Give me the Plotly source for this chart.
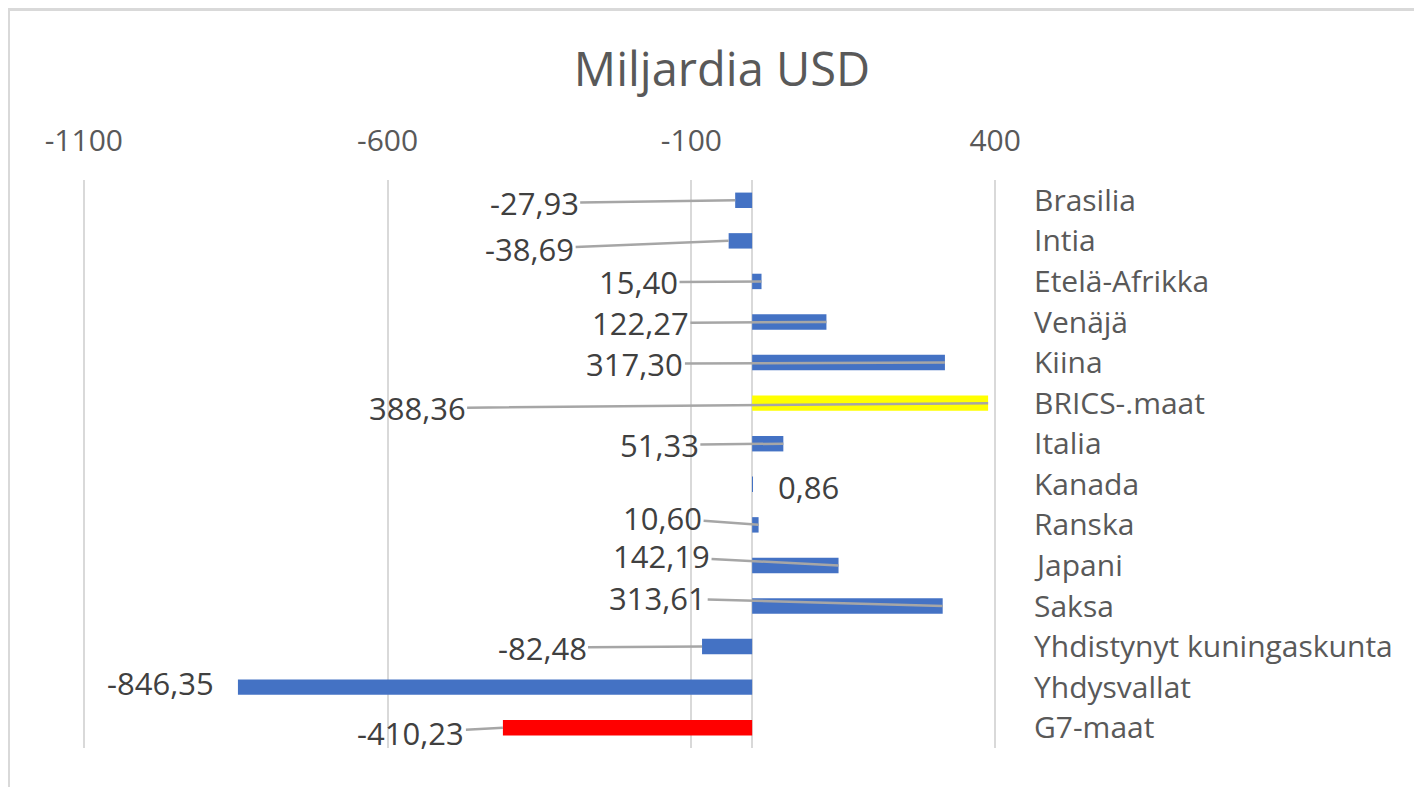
import plotly.graph_objects as go

# ---- data (top-to-bottom order as in the chart) ----
categories = ["Brasilia", "Intia", "Etelä-Afrikka", "Venäjä", "Kiina", "BRICS-.maat",
              "Italia", "Kanada", "Ranska", "Japani", "Saksa",
              "Yhdistynyt kuningaskunta", "Yhdysvallat", "G7-maat"]
values = [-27.93, -38.69, 15.40, 122.27, 317.30, 388.36,
          51.33, 0.86, 10.60, 142.19, 313.61,
          -82.48, -846.35, -410.23]
bar_colors = ["#4472C4", "#4472C4", "#4472C4", "#4472C4", "#4472C4", "#FFFF00",
              "#4472C4", "#4472C4", "#4472C4", "#4472C4", "#4472C4",
              "#4472C4", "#4472C4", "#FF0000"]
tick_vals = [-1100, -600, -100, 400]

# label offsets in pixels (text centre relative to bar end) and whether a leader line is drawn
label_dx = [-201, -199, -123, -186, -310, -571, -124, 56, -96, -177, -285, -160, -77, -92]
label_dy = [3, 8, 1, 1, 1, 5, 1, 3, -7, -9, -8, 1, -4, 5]
leader = [True, True, True, True, True, True, True, False, True, True, True, True, False, True]

# page is drawn with an 8px body margin, so the figure is 8px smaller each way
W, H = 1414, 779
ML, MR, MT, MB = 74, 425, 172, 39
X_RANGE = [-1103, 403]

fig = go.Figure()
fig.add_trace(go.Bar(
    x=values, y=categories, orientation="h",
    marker=dict(color=bar_colors, line=dict(width=0)),
    hoverinfo="x+y", showlegend=False,
))

def fmt(v):
    return f"{v:.2f}".replace(".", ",")

LABEL_FONT = dict(family="Open Sans", size=31, color="#404040")
CAT_FONT = dict(family="Open Sans", size=30, color="#595959")
annotations = []
for c, v, dx, dy, ld in zip(categories, values, label_dx, label_dy, leader):
    if ld:
        annotations.append(dict(
            x=v, y=c, xref="x", yref="y", text=fmt(v),
            showarrow=True, arrowhead=0, arrowwidth=2.5, arrowcolor="#A6A6A6",
            ax=dx, ay=dy, standoff=0, startstandoff=0, font=LABEL_FONT,
        ))
    else:
        annotations.append(dict(
            x=v, y=c, xref="x", yref="y", text=fmt(v),
            showarrow=False, xshift=dx, yshift=-dy, font=LABEL_FONT,
        ))

# category labels to the right of the plot area
for c in categories:
    annotations.append(dict(
        x=1, y=c, xref="paper", yref="y", text=c, showarrow=False,
        xanchor="left", xshift=35, yshift=1, font=CAT_FONT,
    ))

pw = W - ML - MR
ph = H - MT - MB
def px_to_paper_x(px):
    return (px - ML) / pw
def px_to_paper_y(py):
    return 1 - (py - MT) / ph

shapes = [
    dict(type="rect", xref="paper", yref="paper",
         x0=px_to_paper_x(0), x1=px_to_paper_x(W), y0=px_to_paper_y(3), y1=px_to_paper_y(0),
         fillcolor="#D9D9D9", line=dict(width=0), layer="below"),
    dict(type="line", xref="paper", yref="paper",
         x0=px_to_paper_x(1), x1=px_to_paper_x(1), y0=px_to_paper_y(H), y1=px_to_paper_y(3),
         line=dict(color="#D9D9D9", width=2), layer="below"),
]

fig.update_layout(
    width=W, height=H,
    margin=dict(l=ML, r=MR, t=MT, b=MB, autoexpand=False),
    paper_bgcolor="white", plot_bgcolor="white",
    title=dict(text="Miljardia USD", x=714 / W, xanchor="center", y=1 - 62 / H, yanchor="middle",
               font=dict(family="Open Sans", size=47, color="#595959")),
    bargap=0.62,
    annotations=annotations,
    shapes=shapes,
    xaxis=dict(
        side="top", range=X_RANGE, tickvals=tick_vals,
        ticktext=[str(t) for t in tick_vals],
        showgrid=True, gridcolor="#D9D9D9", gridwidth=2,
        zeroline=True, zerolinecolor="#D9D9D9", zerolinewidth=2,
        showline=False, ticks="", ticklabelstandoff=22,
        tickfont=dict(family="Open Sans", size=30, color="#595959"),
        fixedrange=True,
    ),
    yaxis=dict(
        type="category", categoryorder="array", categoryarray=categories,
        range=[len(categories) - 0.5, -0.5], autorange=False,
        showgrid=False, zeroline=False, showline=False, ticks="",
        showticklabels=False, fixedrange=True,
    ),
)

fig.write_html("out.html")
